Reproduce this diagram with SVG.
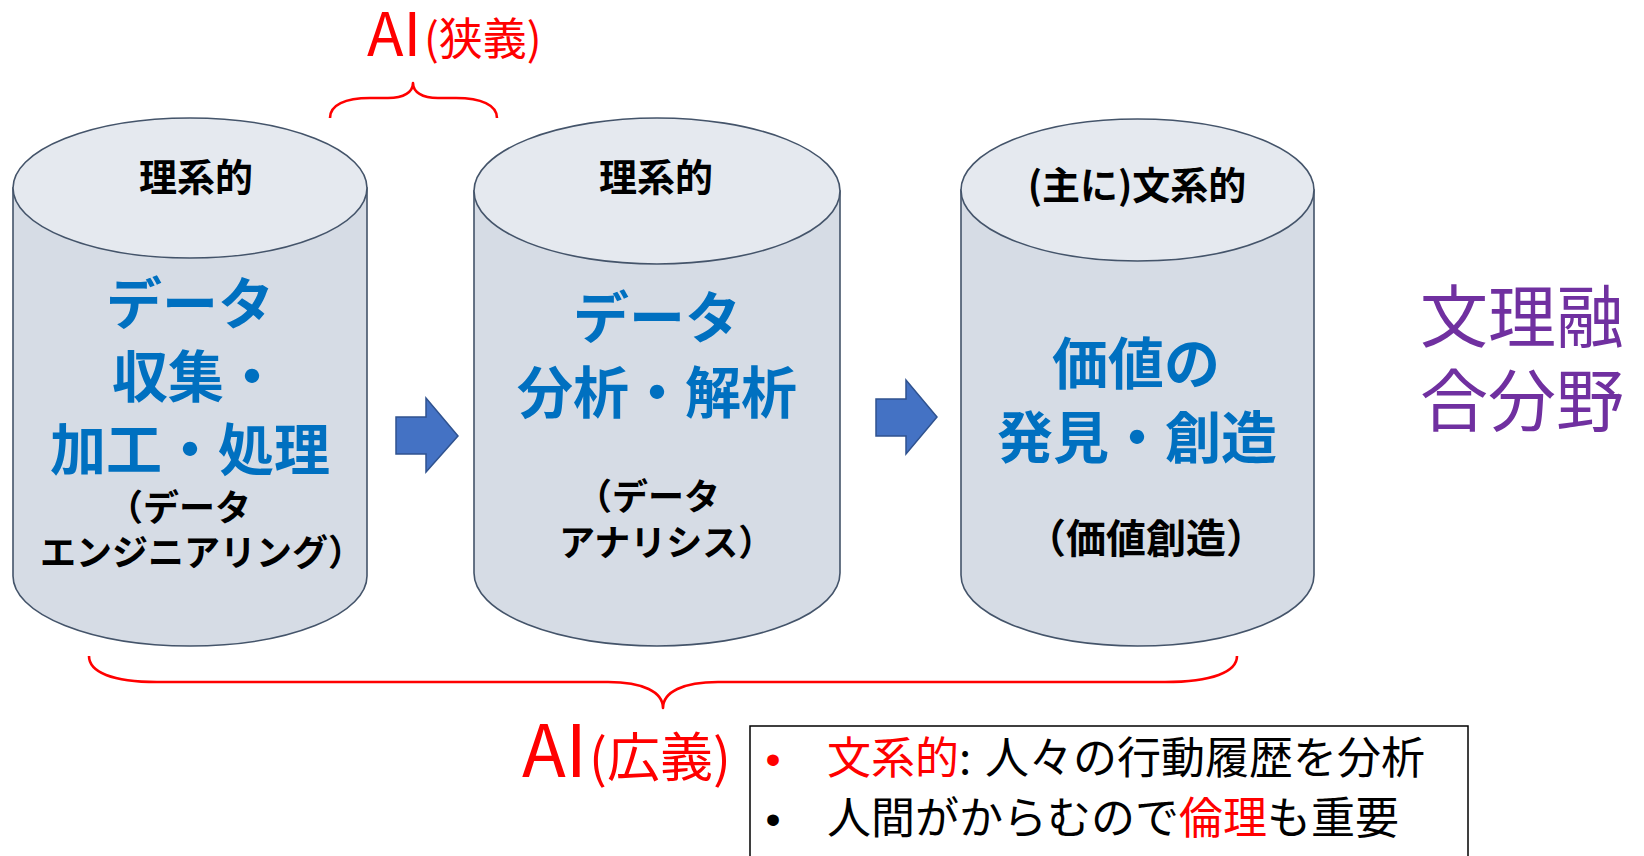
<svg xmlns="http://www.w3.org/2000/svg" width="1644" height="856" viewBox="0 0 1644 856">
<defs>
<style>
.side{fill:#d6dce5;stroke:#44546a;stroke-width:1.6}
.cap{fill:#e5e9ef;stroke:#44546a;stroke-width:1.6}
.jp{font-family:"Noto Sans CJK JP","Noto Sans CJK SC",sans-serif}
.hd{font-size:38px;font-weight:bold;fill:#000;text-anchor:middle}
.big{font-size:56px;font-weight:bold;fill:#0070c0;text-anchor:middle}
.sub{font-size:36px;font-weight:bold;fill:#000}
.red{fill:#ff0000}
.blk{fill:#000}
.brace{fill:none;stroke:#ff0000;stroke-width:2.6;stroke-linejoin:round}
.arrow{fill:#4472c4;stroke:#2f528f;stroke-width:1.5}
.note{font-size:44px;fill:#000}
</style>
</defs>
<rect width="1644" height="856" fill="#ffffff"/>

<g id="cyl1">
<path class="side" d="M13,188 V576 A177,70 0 0 0 367,576 V188 Z"/>
<ellipse class="cap" cx="190" cy="188" rx="177" ry="70"/>
<text class="jp hd" x="196" y="191">理系的</text>
<text class="jp big" x="190" y="324">データ</text>
<text class="jp big" x="196" y="397">収集・</text>
<text class="jp big" x="190" y="470">加工・処理</text>
<text class="jp sub" x="107" y="521">（データ</text>
<text class="jp sub" x="40" y="566">エンジニアリング）</text>
</g>

<g id="cyl2">
<path class="side" d="M474,191 V573 A183,73 0 0 0 840,573 V191 Z"/>
<ellipse class="cap" cx="657" cy="191" rx="183" ry="73"/>
<text class="jp hd" x="656" y="191">理系的</text>
<text class="jp big" x="657" y="338">データ</text>
<text class="jp big" x="657" y="413">分析・解析</text>
<text class="jp sub" x="576" y="510">（データ</text>
<text class="jp sub" x="559" y="556">アナリシス）</text>
</g>

<g id="cyl3">
<path class="side" d="M961,190 V575 A176.5,71 0 0 0 1314,575 V190 Z"/>
<ellipse class="cap" cx="1137.5" cy="190" rx="176.5" ry="71"/>
<text class="jp hd" x="1137" y="199">(主に)文系的</text>
<text class="jp big" x="1136" y="384">価値の</text>
<text class="jp big" x="1137" y="458">発見・創造</text>
<text class="jp sub" x="1146" y="553" text-anchor="middle" style="font-size:40px">（価値創造）</text>
</g>

<g id="connectors">
<polygon class="arrow" points="396,417 426,417 426,398 458,436 426,472 426,454 396,454"/>
<polygon class="arrow" points="876,399 906,399 906,380 937,417 906,454 906,436 876,436"/>
</g>

<g id="ai-narrow">
<path class="brace" d="M330,118 C330,105 345,98 370,98 L388,98 C404,98 413,92 413,83 C413,92 422,98 438,98 L456,98 C481,98 497,105 497,118"/>
<text class="jp red" x="367" y="56" font-size="60">AI<tspan font-size="44" x="424" y="55">(狭義)</tspan></text>
</g>

<g id="ai-broad">
<path class="brace" d="M89,656 C89,672 112,682 157,682 L608,682 C643,682 663,692 663,708 C663,692 683,682 718,682 L1165,682 C1212,682 1237,672 1237,656"/>
<text class="jp red" x="522" y="777" font-size="72">AI<tspan font-size="53" x="589" y="777">(広義)</tspan></text>
</g>

<g id="fusion">
<text class="jp" x="1420" y="342" font-size="68" fill="#7030a0">文理融</text>
<text class="jp" x="1420" y="426" font-size="68" fill="#7030a0">合分野</text>
</g>

<g id="notes">
<rect x="750" y="726" width="718" height="140" fill="#ffffff" stroke="#000" stroke-width="1.5"/>
<text x="765.5" y="774" font-family="Liberation Sans, Arial, sans-serif" font-size="43" fill="#ff0000">•</text>
<text x="765.5" y="834" font-family="Liberation Sans, Arial, sans-serif" font-size="43" fill="#000">•</text>
<text class="jp note" x="827" y="774"><tspan class="red">文系的</tspan>:<tspan x="985">人々の行動履歴を分析</tspan></text>
<text class="jp note" x="827" y="834">人間がからむので<tspan class="red">倫理</tspan>も重要</text>
</g>
</svg>
